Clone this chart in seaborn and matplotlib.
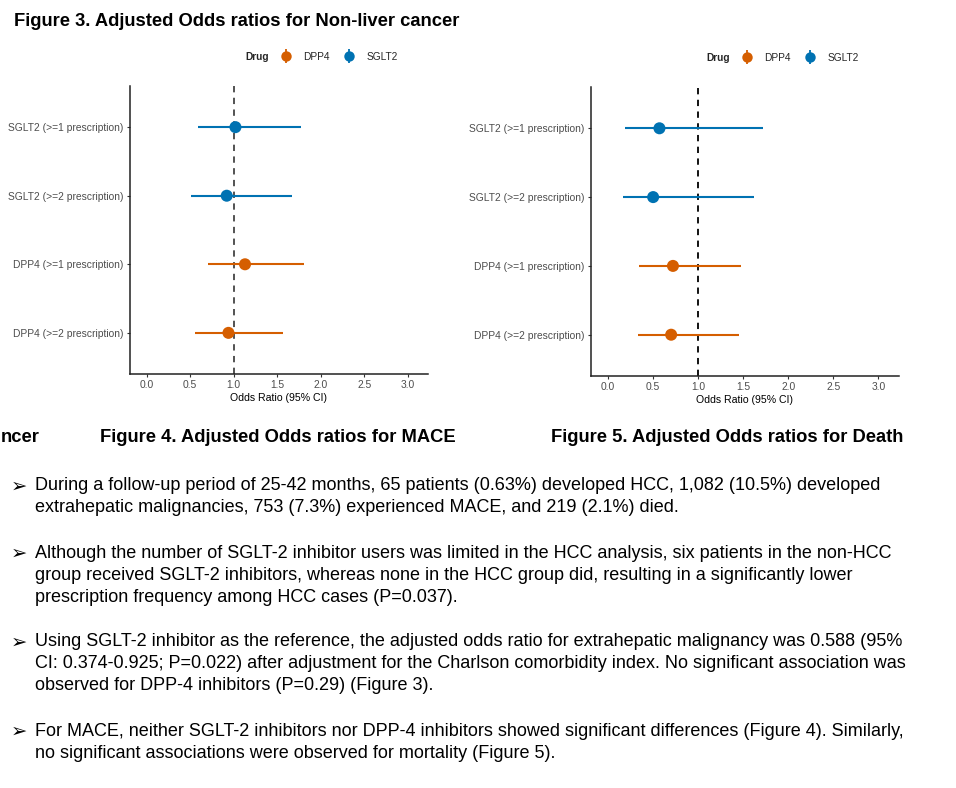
import numpy as np
import pandas as pd
import seaborn as sns
import matplotlib
matplotlib.use("Agg")
import matplotlib.pyplot as plt
from matplotlib.lines import Line2D
from matplotlib.legend_handler import HandlerTuple

# data (bottom row first, like ggplot's factor order)
labels = ["DPP4 (>=2 prescription)", "DPP4 (>=1 prescription)",
          "SGLT2 (>=2 prescription)", "SGLT2 (>=1 prescription)"]
drug = ["DPP4", "DPP4", "SGLT2", "SGLT2"]

mace_or = [0.94, 1.13, 0.92, 1.02]
mace_lo = [0.56, 0.71, 0.51, 0.59]
mace_hi = [1.57, 1.81, 1.67, 1.77]

death_or = [0.70, 0.72, 0.50, 0.57]
death_lo = [0.33, 0.34, 0.16, 0.19]
death_hi = [1.45, 1.48, 1.62, 1.72]

xticks = [0.0, 0.5, 1.0, 1.5, 2.0, 2.5, 3.0]

bullets = [
    ["During a follow-up period of 25-42 months, 65 patients (0.63%) developed HCC, 1,082 (10.5%) developed",
     "extrahepatic malignancies, 753 (7.3%) experienced MACE, and 219 (2.1%) died."],
    ["Although the number of SGLT-2 inhibitor users was limited in the HCC analysis, six patients in the non-HCC",
     "group received SGLT-2 inhibitors, whereas none in the HCC group did, resulting in a significantly lower",
     "prescription frequency among HCC cases (P=0.037)."],
    ["Using SGLT-2 inhibitor as the reference, the adjusted odds ratio for extrahepatic malignancy was 0.588 (95%",
     "CI: 0.374-0.925; P=0.022) after adjustment for the Charlson comorbidity index. No significant association was",
     "observed for DPP-4 inhibitors (P=0.29) (Figure 3)."],
    ["For MACE, neither SGLT-2 inhibitors nor DPP-4 inhibitors showed significant differences (Figure 4). Similarly,",
     "no significant associations were observed for mortality (Figure 5)."],
]

pal = {"DPP4": "#D55E00", "SGLT2": "#0072B2"}

sns.set_style("ticks")
plt.rcParams["font.family"] = ["Liberation Sans", "DejaVu Sans"]

W, H = 956, 788
fig = plt.figure(figsize=(W / 100, H / 100), dpi=100)


def fx(x):
    return x / W


def fy(y):
    return 1 - y / H


def forest(ax, or_, lo, hi, dash_col):
    df = pd.DataFrame({"label": labels, "drug": drug, "or": or_, "lo": lo, "hi": hi})
    df["pos"] = np.arange(len(df))
    for d, sub in df.groupby("drug"):
        ax.hlines(sub["pos"], sub["lo"], sub["hi"], color=pal[d], lw=1.5, zorder=2)
    sns.scatterplot(data=df, x="or", y="pos", hue="drug", palette=pal, s=75,
                    edgecolor="none", legend=False, ax=ax, zorder=3)
    ax.axvline(1.0, color=dash_col, ls=(0, (3.5, 3)), lw=1.3, zorder=1)
    ax.set_yticks(df["pos"], df["label"])
    ax.set_ylim(-0.6, len(df) - 0.4)
    ax.set_xlim(-0.19, 3.23)
    ax.set_xticks(xticks, [f"{t:.1f}" for t in xticks])
    ax.set_xlabel("Odds Ratio (95% CI)", fontsize=7.6, labelpad=2, color="black")
    ax.set_ylabel("")
    ax.tick_params(axis="both", labelsize=7.35, colors="#333333", labelcolor="#4D4D4D",
                   length=2.5, width=0.8, pad=2)
    for s in ["top", "right"]:
        ax.spines[s].set_visible(False)
    for s in ["left", "bottom"]:
        ax.spines[s].set_color("#222222")
        ax.spines[s].set_linewidth(1.1)


def legend_at(x_drug, x_handle, y):
    handles = [(Line2D([], [], marker="|", ms=10.5, mew=1.3, ls="", color=pal[d]),
                Line2D([], [], marker="o", ms=7.5, ls="", mec="none", color=pal[d]))
               for d in ["DPP4", "SGLT2"]]
    fig.text(fx(x_drug), fy(y), "Drug", fontsize=7.3, fontweight="bold", va="center")
    fig.legend(handles, ["DPP4", "SGLT2"], handler_map={tuple: HandlerTuple(ndivide=1)},
               ncols=2, frameon=False, fontsize=7.3, loc="center left",
               bbox_to_anchor=(fx(x_handle), fy(y)), borderpad=0, borderaxespad=0,
               handlelength=1.0, handletextpad=1.2, columnspacing=1.4)


ax1 = fig.add_axes([fx(130), fy(374), fx(428 - 130), (374 - 86) / H])
forest(ax1, mace_or, mace_lo, mace_hi, "#444444")
legend_at(245, 281, 57)

ax2 = fig.add_axes([fx(591), fy(376), fx(899 - 591), (376 - 87) / H])
forest(ax2, death_or, death_lo, death_hi, "black")
legend_at(706, 742, 58)

tkw = dict(fontsize=13.2, fontweight="bold", va="center", color="black")
fig.text(fx(14), fy(21), "Figure 3. Adjusted Odds ratios for Non-liver cancer", **tkw)
fig.text(fx(1), fy(438), "ncer", **tkw)
fig.text(fx(100), fy(438), "Figure 4. Adjusted Odds ratios for MACE", **tkw)
fig.text(fx(551), fy(438), "Figure 5. Adjusted Odds ratios for Death", **tkw)

line_y = [[486, 508], [553, 575, 597], [642, 664, 686], [731, 753]]
for lines, ys in zip(bullets, line_y):
    fig.text(fx(11), fy(ys[0]), "\u27a2", fontsize=14, family=["DejaVu Sans"],
             va="center", color="black")
    for txt, y in zip(lines, ys):
        fig.text(fx(35), fy(y), txt, fontsize=13.0, va="center", color="black")

fig.savefig("out.png", dpi=100)
